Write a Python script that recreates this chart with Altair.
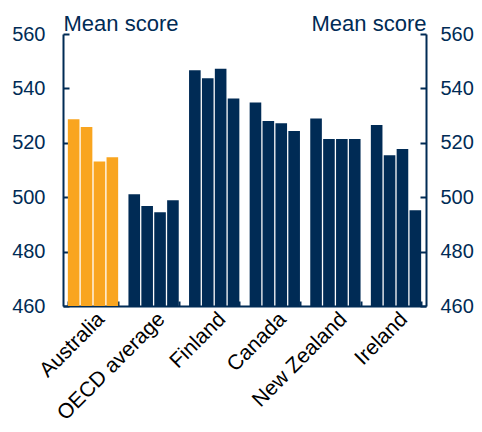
import altair as alt
import pandas as pd

countries = ["Australia", "OECD average", "Finland", "Canada", "New Zealand", "Ireland"]
years = ["2000", "2003", "2006", "2009"]
australia = [528.7, 525.8, 513.1, 514.7]
oecd_average = [501.1, 496.8, 494.5, 498.9]
finland = [546.7, 543.7, 547.2, 536.3]
canada = [534.8, 528.0, 527.2, 524.3]
new_zealand = [528.9, 521.4, 521.4, 521.4]
ireland = [526.5, 515.4, 517.7, 495.2]
y_ticks = [460, 480, 500, 520, 540, 560]
y_min, y_max = 460, 560

series = [australia, oecd_average, finland, canada, new_zealand, ireland]
rows = []
for c, vals in zip(countries, series):
    for yr, v in zip(years, vals):
        rows.append({"country": c, "year": yr, "score": v})
df = pd.DataFrame(rows)

NAVY = "#002B55"
ORANGE = "#F9A51F"
FONT = "Liberation Sans"

yscale = alt.Scale(domain=[y_min, y_max], nice=False, zero=False)

def y_axis(orient, align, pad):
    return alt.Axis(
        orient=orient, values=y_ticks, title="Mean score", titleAngle=0,
        titleAlign=align, titleBaseline="alphabetic", titleX=0, titleY=-4,
        titleFont=FONT, titleFontSize=22, titleFontWeight="normal", titleColor=NAVY,
        labelFont=FONT, labelFontSize=20, labelColor=NAVY, labelPadding=pad,
        tickSize={"expr": "-6"}, tickColor=NAVY, tickWidth=2,
        domainColor=NAVY, domainWidth=2, grid=False,
    )

x_enc = alt.X("country:N", sort=countries,
              scale=alt.Scale(paddingInner=0.17, paddingOuter=0.08),
              axis=alt.Axis(title=None, labelAngle=-45, labelFont=FONT, labelFontSize=21,
                            labelColor="#000000", labelPadding=7,
                            domainColor=NAVY, domainWidth=2, tickBand="extent",
                            tickSize={"expr": "-5"}, tickColor=NAVY, tickWidth=2))

bars = alt.Chart(df).mark_bar().encode(
    x=x_enc,
    xOffset=alt.XOffset("year:N", scale=alt.Scale(paddingInner=0.1)),
    y=alt.Y("score:Q", scale=yscale, axis=y_axis("left", "left", 24)),
    y2=alt.datum(y_min),
    color=alt.condition(alt.datum.country == "Australia", alt.value(ORANGE), alt.value(NAVY)),
)

right = alt.Chart(df).mark_point(opacity=0).encode(
    x=x_enc,
    y=alt.Y("score:Q", scale=yscale, axis=y_axis("right", "right", 20)),
)

chart = alt.layer(bars, right).resolve_axis(y="independent").properties(
    width=363, height=272,
    autosize=alt.AutoSizeParams(type="none"),
    padding={"left": 55, "top": 26, "right": 48, "bottom": 118},
).configure_view(stroke=None)

chart.save("out.html", embed_options={"renderer": "svg", "actions": False})
